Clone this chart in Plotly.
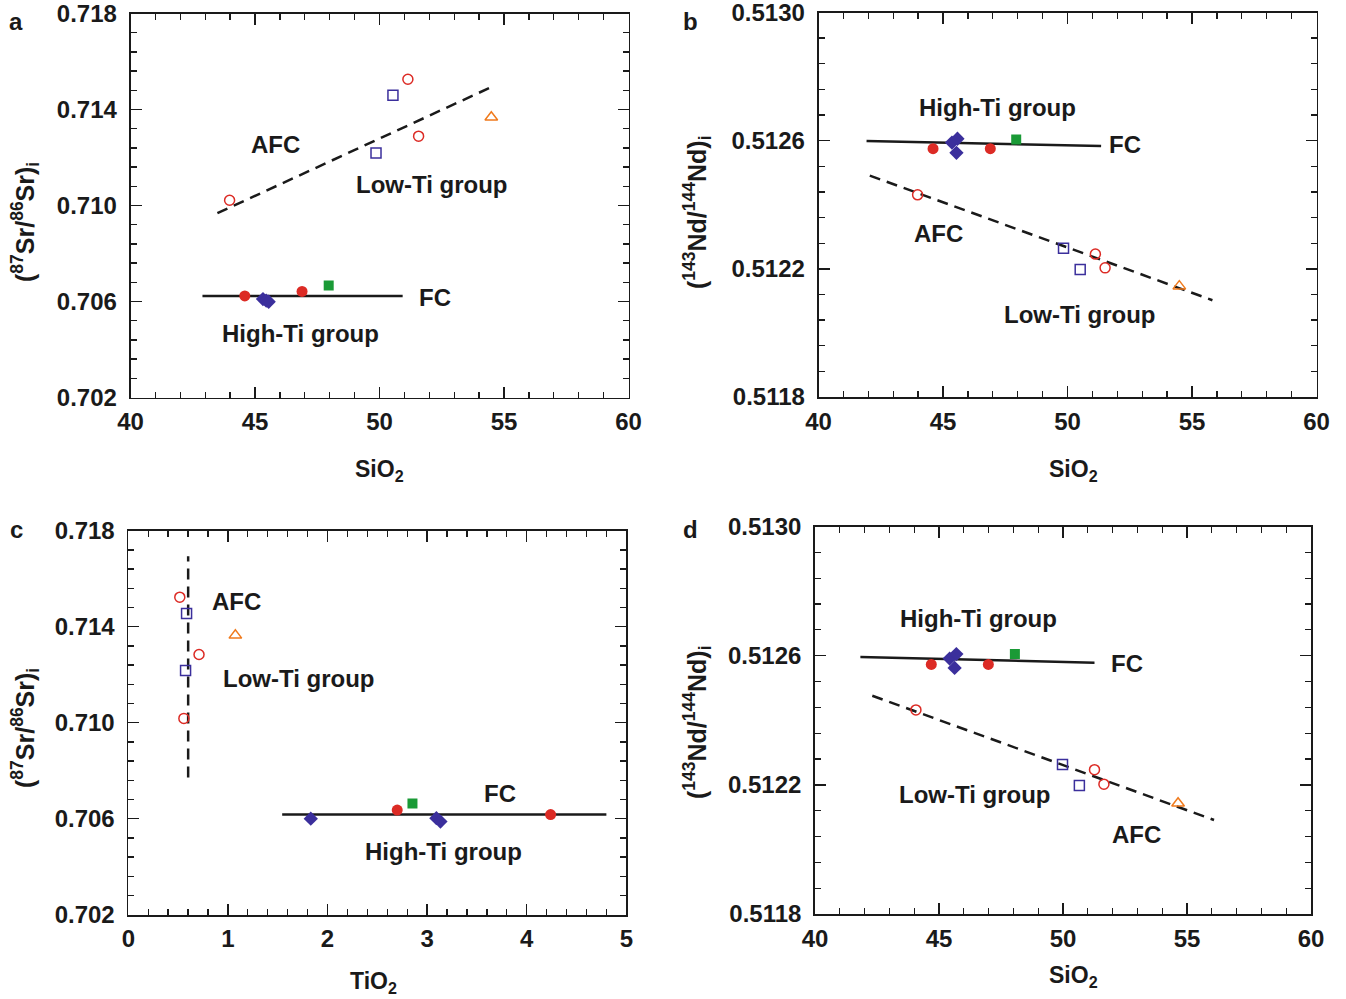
import plotly.graph_objects as go

# page is 1346x999; the body margin is removed by a small post script so the
# figure starts at the page's top-left corner
PAGE_W, PAGE_H = 1346, 999
OFF = 0
W, H = PAGE_W - OFF, PAGE_H - OFF
FONT = "Liberation Sans"
INK = "#1a1a1a"
RED = "#dc2b25"
BLUE = "#3b2f9c"
ORANGE = "#f07a1c"
GREEN = "#1a9a36"

# ---------------- data ----------------
# Panel a: SiO2 vs (87Sr/86Sr)i
a_low_circ_x = [43.98, 51.14, 51.57]
a_low_circ_y = [0.71022, 0.71526, 0.71289]
a_low_sq_x = [49.86, 50.54]
a_low_sq_y = [0.71219, 0.71459]
a_low_tri_x = [54.49]
a_low_tri_y = [0.71368]
a_high_circ_x = [44.59, 46.89]
a_high_circ_y = [0.70623, 0.70642]
a_high_dia_x = [45.32, 45.45, 45.55]
a_high_dia_y = [0.70610, 0.70604, 0.70599]
a_high_sq_x = [47.96]
a_high_sq_y = [0.70667]
a_afc_x = [43.49, 54.65]
a_afc_y = [0.70968, 0.71501]
a_fc_x = [42.89, 50.93]
a_fc_y = [0.70623, 0.70623]

# Panel b: SiO2 vs (143Nd/144Nd)i
b_low_circ_x = [43.98, 51.12, 51.51]
b_low_circ_y = [0.512431, 0.512246, 0.512203]
b_low_sq_x = [49.84, 50.51]
b_low_sq_y = [0.512264, 0.512198]
b_low_tri_x = [54.49]
b_low_tri_y = [0.512146]
b_high_circ_x = [44.60, 46.90]
b_high_circ_y = [0.512575, 0.512575]
b_high_dia_x = [45.36, 45.58, 45.54]
b_high_dia_y = [0.512594, 0.512606, 0.512562]
b_high_sq_x = [47.94]
b_high_sq_y = [0.512604]
b_afc_x = [42.06, 55.82]
b_afc_y = [0.512491, 0.512102]
b_fc_x = [41.93, 51.35]
b_fc_y = [0.512599, 0.512583]

# Panel c: TiO2 vs (87Sr/86Sr)i
c_low_circ_x = [0.517, 0.710, 0.558]
c_low_circ_y = [0.71523, 0.71284, 0.71018]
c_low_sq_x = [0.585, 0.575]
c_low_sq_y = [0.71455, 0.71217]
c_low_tri_x = [1.075]
c_low_tri_y = [0.71364]
c_high_circ_x = [2.70, 4.24]
c_high_circ_y = [0.70636, 0.70617]
c_high_dia_x = [1.832, 3.093, 3.134]
c_high_dia_y = [0.70600, 0.70602, 0.70588]
c_high_sq_x = [2.853]
c_high_sq_y = [0.70663]
c_afc_x = [0.601, 0.601]
c_afc_y = [0.70772, 0.71694]
c_fc_x = [1.545, 4.80]
c_fc_y = [0.70617, 0.70617]

# Panel d: SiO2 vs (143Nd/144Nd)i
d_low_circ_x = [44.07, 51.27, 51.65]
d_low_circ_y = [0.512432, 0.512247, 0.512202]
d_low_sq_x = [49.98, 50.66]
d_low_sq_y = [0.512263, 0.512198]
d_low_tri_x = [54.64]
d_low_tri_y = [0.512143]
d_high_circ_x = [44.69, 46.99]
d_high_circ_y = [0.512573, 0.512573]
d_high_dia_x = [45.43, 45.70, 45.63]
d_high_dia_y = [0.512591, 0.512605, 0.512562]
d_high_sq_x = [48.06]
d_high_sq_y = [0.512605]
d_afc_x = [42.31, 56.09]
d_afc_y = [0.512476, 0.512091]
d_fc_x = [41.83, 51.27]
d_fc_y = [0.512596, 0.512578]

# ticks
sio2_ticks = [40, 45, 50, 55, 60]
tio2_ticks = [0, 1, 2, 3, 4, 5]
sr_ticks = [0.702, 0.706, 0.710, 0.714, 0.718]
nd_ticks = [0.5118, 0.5122, 0.5126, 0.5130]

panels = {
    "a": dict(data=dict(lc=(a_low_circ_x, a_low_circ_y), ls=(a_low_sq_x, a_low_sq_y),
                        lt=(a_low_tri_x, a_low_tri_y), hc=(a_high_circ_x, a_high_circ_y),
                        hd=(a_high_dia_x, a_high_dia_y), hs=(a_high_sq_x, a_high_sq_y),
                        afc=(a_afc_x, a_afc_y), fc=(a_fc_x, a_fc_y)),
              labels=[("AFC", 45.84, 0.71256), ("Low-Ti group", 52.10, 0.71087),
                      ("FC", 52.22, 0.70615), ("High-Ti group", 46.81, 0.70465)]),
    "b": dict(data=dict(lc=(b_low_circ_x, b_low_circ_y), ls=(b_low_sq_x, b_low_sq_y),
                        lt=(b_low_tri_x, b_low_tri_y), hc=(b_high_circ_x, b_high_circ_y),
                        hd=(b_high_dia_x, b_high_dia_y), hs=(b_high_sq_x, b_high_sq_y),
                        afc=(b_afc_x, b_afc_y), fc=(b_fc_x, b_fc_y)),
              labels=[("High-Ti group", 47.17, 0.512705), ("FC", 52.31, 0.512587),
                      ("AFC", 44.82, 0.512309), ("Low-Ti group", 50.50, 0.512059)]),
    "c": dict(data=dict(lc=(c_low_circ_x, c_low_circ_y), ls=(c_low_sq_x, c_low_sq_y),
                        lt=(c_low_tri_x, c_low_tri_y), hc=(c_high_circ_x, c_high_circ_y),
                        hd=(c_high_dia_x, c_high_dia_y), hs=(c_high_sq_x, c_high_sq_y),
                        afc=(c_afc_x, c_afc_y), fc=(c_fc_x, c_fc_y)),
              labels=[("AFC", 1.088, 0.71506), ("Low-Ti group", 1.714, 0.71186),
                      ("FC", 3.736, 0.70706), ("High-Ti group", 3.16, 0.70465)]),
    "d": dict(data=dict(lc=(d_low_circ_x, d_low_circ_y), ls=(d_low_sq_x, d_low_sq_y),
                        lt=(d_low_tri_x, d_low_tri_y), hc=(d_high_circ_x, d_high_circ_y),
                        hd=(d_high_dia_x, d_high_dia_y), hs=(d_high_sq_x, d_high_sq_y),
                        afc=(d_afc_x, d_afc_y), fc=(d_fc_x, d_fc_y)),
              labels=[("High-Ti group", 46.61, 0.512714), ("FC", 52.58, 0.512575),
                      ("Low-Ti group", 46.45, 0.512169), ("AFC", 52.98, 0.512045)]),
}

# page-pixel boxes of each plot area: (left, right, top, bottom)
boxes = {"a": (130.5, 628.5, 13.5, 397.5),
         "b": (818.5, 1316.5, 12.5, 397.0),
         "c": (128.3, 626.3, 530.7, 914.7),
         "d": (815.0, 1311.0, 526.5, 914.0)}
axis_ids = {"a": "", "b": "2", "c": "3", "d": "4"}


def fx(px):
    return (px - OFF) / W


def fy(py):
    return 1 - (py - OFF) / H


fig = go.Figure()

styles = {
    "lc": dict(symbol="circle-open", size=10, color=RED, line=dict(width=1.5, color=RED)),
    "ls": dict(symbol="square-open", size=10, color=BLUE, line=dict(width=1.5, color=BLUE)),
    "lt": dict(symbol="triangle-up-open", size=11, color=ORANGE, line=dict(width=1.5, color=ORANGE)),
    "hc": dict(symbol="circle", size=11, color=RED, line=dict(width=0)),
    "hd": dict(symbol="diamond", size=11, color=BLUE, line=dict(width=0)),
    "hs": dict(symbol="square", size=10, color=GREEN, line=dict(width=0)),
}

for key, p in panels.items():
    sfx = axis_ids[key]
    xa, ya = "x" + sfx, "y" + sfx
    d = p["data"]
    fig.add_trace(go.Scatter(x=d["afc"][0], y=d["afc"][1], mode="lines", xaxis=xa, yaxis=ya,
                             line=dict(color=INK, width=2.5, dash="11px,7px"), showlegend=False))
    fig.add_trace(go.Scatter(x=d["fc"][0], y=d["fc"][1], mode="lines", xaxis=xa, yaxis=ya,
                             line=dict(color=INK, width=2.5), showlegend=False))
    for k in ["lc", "ls", "lt", "hc", "hd", "hs"]:
        fig.add_trace(go.Scatter(x=d[k][0], y=d[k][1], mode="markers", xaxis=xa, yaxis=ya,
                                 marker=styles[k], showlegend=False))
    for txt, x, y in p["labels"]:
        fig.add_annotation(text=txt, x=x, y=y, xref=xa, yref=ya, showarrow=False,
                           font=dict(family=FONT, size=24, color=INK, weight="bold"),
                           xanchor="center", yanchor="middle")


def axis(domain, rng, tickvals, minor_dtick, minor_tick0, fmt, anchor, standoff):
    return dict(domain=domain, range=rng, tickmode="array", tickvals=tickvals,
                tickformat=fmt, ticks="inside", ticklen=11, tickwidth=1.5, tickcolor=INK,
                showline=True, linecolor=INK, linewidth=1.8, mirror="ticks",
                showgrid=False, zeroline=False, anchor=anchor, automargin=False,
                ticklabeloverflow="allow",
                minor=dict(dtick=minor_dtick, tick0=minor_tick0, ticks="inside", ticklen=6,
                           tickwidth=1.3, tickcolor=INK, showgrid=False),
                tickfont=dict(family=FONT, size=24, color=INK, weight="bold"),
                ticklabelstandoff=standoff)


layout_axes = {}
for key in "abcd":
    l, r, t, b = boxes[key]
    sfx = axis_ids[key]
    xdom = [fx(l), fx(r)]
    ydom = [fy(b), fy(t)]
    if key == "c":
        xa = axis(xdom, [0, 5], tio2_ticks, 0.2, 0, "d", "y" + sfx, 2)
    else:
        xa = axis(xdom, [40, 60], sio2_ticks, 1, 40, "d", "y" + sfx, 2)
    if key in ("a", "c"):
        ya = axis(ydom, [0.702, 0.718], sr_ticks, 0.0008, 0.702, ".3f", "x" + sfx, 7)
    else:
        ya = axis(ydom, [0.5118, 0.5130], nd_ticks, 0.00008, 0.5118, ".4f", "x" + sfx, 7)
    layout_axes["xaxis" + sfx] = xa
    layout_axes["yaxis" + sfx] = ya

fig.update_layout(width=W, height=H, autosize=False,
                  margin=dict(l=0, r=0, t=0, b=0, pad=0, autoexpand=False),
                  showlegend=False, hovermode=False,
                  paper_bgcolor="white", plot_bgcolor="white", **layout_axes)


def paper_text(txt, px, py, size, angle=0):
    fig.add_annotation(text=txt, x=fx(px), y=fy(py), xref="paper", yref="paper",
                       showarrow=False, textangle=angle, xanchor="center", yanchor="middle",
                       font=dict(family=FONT, size=size, color=INK, weight="bold"))


# panel letters
paper_text("a", 16, 22, 24)
paper_text("b", 691, 22, 24)
paper_text("c", 16, 529, 24)
paper_text("d", 691, 529, 24)

sr_title = "(<sup>87</sup>Sr/<sup>86</sup>Sr)<sub>i</sub>"
nd_title = "(<sup>143</sup>Nd/<sup>144</sup>Nd)<sub>i</sub>"
paper_text(sr_title, 25, 222, 25, -90)
paper_text(nd_title, 697, 212, 25, -90)
paper_text(sr_title, 25, 728, 25, -90)
paper_text(nd_title, 697, 722, 25, -90)

paper_text("SiO<sub>2</sub>", 379, 470, 23)
paper_text("SiO<sub>2</sub>", 1073, 470, 23)
paper_text("TiO<sub>2</sub>", 373, 982, 23)
paper_text("SiO<sub>2</sub>", 1073, 976, 23)

fig.write_html("out.html",
               config={"displayModeBar": False, "staticPlot": True},
               post_script="document.body.style.margin='0px';"
                           "document.body.style.overflow='hidden';")
